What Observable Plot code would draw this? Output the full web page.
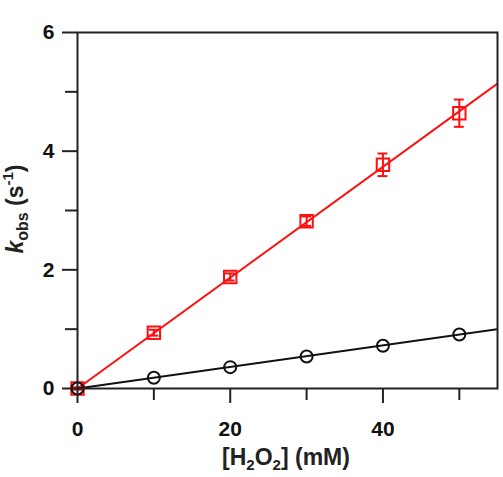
<!DOCTYPE html>
<html><head><meta charset="utf-8">
<script src="https://cdn.jsdelivr.net/npm/d3@7"></script>
<script src="https://cdn.jsdelivr.net/npm/@observablehq/plot@0.6"></script>
<style>
body{margin:0;background:#fff}
#chart svg{font-family:"Liberation Sans",Arial,sans-serif;}
</style>
</head><body><div id="chart"></div>
<script>
const conc = [0, 10, 20, 30, 40, 50];
const kobsRed = [0, 0.94, 1.88, 2.82, 3.77, 4.64];
const errRed = [0.02, 0.05, 0.06, 0.08, 0.19, 0.23];
const kobsBlack = [0, 0.18, 0.36, 0.54, 0.72, 0.91];
const fitX = [0, 55];
const fitRed = [0, 5.14];
const fitBlack = [0, 1.00];
const xMajor = [0, 20, 40];
const xMinor = [10, 30, 50];
const yMajor = [0, 2, 4, 6];
const yMinor = [1, 3, 5];

const red = conc.map((x, i) => ({x, y: kobsRed[i], lo: kobsRed[i] - errRed[i], hi: kobsRed[i] + errRed[i]}));
const black = conc.map((x, i) => ({x, y: kobsBlack[i]}));
const fitR = fitX.map((x, i) => ({x, y: fitRed[i]}));
const fitB = fitX.map((x, i) => ({x, y: fitBlack[i]}));
const capW = 0.65;
const RED = "#ff1010";

const plot = Plot.plot({
  width: 503, height: 477,
  marginLeft: 77, marginRight: 6, marginTop: 32, marginBottom: 89,
  style: {fontFamily: "Liberation Sans, Arial, sans-serif", background: "#fff"},
  x: {domain: [0, 55]},
  y: {domain: [0, 6]},
  marks: [
    Plot.line(fitR, {x: "x", y: "y", stroke: RED, strokeWidth: 2, clip: true}),
    Plot.ruleX(red, {x: "x", y1: "lo", y2: "hi", stroke: RED, strokeWidth: 2}),
    Plot.ruleY(red, {y: "hi", x1: d => d.x - capW, x2: d => d.x + capW, stroke: RED, strokeWidth: 2}),
    Plot.ruleY(red, {y: "lo", x1: d => d.x - capW, x2: d => d.x + capW, stroke: RED, strokeWidth: 2}),
    Plot.dot(red, {x: "x", y: "y", symbol: "square", r: 7, stroke: RED, strokeWidth: 2, fill: "none"}),
    Plot.line(fitB, {x: "x", y: "y", stroke: "#111", strokeWidth: 2, clip: true}),
    Plot.dot(black, {x: "x", y: "y", r: 6, stroke: "#111", strokeWidth: 2, fill: "none"}),
    Plot.frame({stroke: "#222", strokeWidth: 2}),
    Plot.axisX({ticks: xMajor, tickSize: 15, tickPadding: 18, tickFormat: d => d, fontSize: 21, fontWeight: "bold", stroke: "#222", strokeWidth: 2, fill: "#111", label: null}),
    Plot.axisX({ticks: xMinor, tickSize: 12, tickFormat: () => "", stroke: "#222", strokeWidth: 2, label: null}),
    Plot.axisY({ticks: yMajor, tickSize: 15, tickPadding: 8, tickFormat: d => d, fontSize: 21, fontWeight: "bold", stroke: "#222", strokeWidth: 2, fill: "#111", label: null}),
    Plot.axisY({ticks: yMinor, tickSize: 12, tickFormat: () => "", stroke: "#222", strokeWidth: 2, label: null})
  ]
});
document.getElementById("chart").appendChild(plot);

const svg = d3.select(plot);
// x-axis label: [H2O2] (mM)
const xl = svg.append("text")
  .attr("x", 286).attr("y", 465)
  .attr("text-anchor", "middle")
  .attr("font-size", 23).attr("font-weight", "bold").attr("fill", "#222")
  .attr("font-family", "Liberation Sans, Arial, sans-serif");
xl.append("tspan").text("[H");
xl.append("tspan").attr("font-size", 15).attr("dy", 5).text("2");
xl.append("tspan").attr("dy", -5).text("O");
xl.append("tspan").attr("font-size", 15).attr("dy", 5).text("2");
xl.append("tspan").attr("dy", -5).text("] (mM)");

// y-axis label: k_obs (s^-1)
const yl = svg.append("text")
  .attr("transform", "translate(23,209) rotate(-90)")
  .attr("text-anchor", "middle")
  .attr("font-size", 23).attr("font-weight", "bold").attr("fill", "#222")
  .attr("font-family", "Liberation Sans, Arial, sans-serif");
yl.append("tspan").attr("font-style", "italic").text("k");
yl.append("tspan").attr("font-size", 16).attr("dy", 5).text("obs");
yl.append("tspan").attr("dy", -5).text(" (s");
yl.append("tspan").attr("font-size", 15).attr("dy", -10).text("-1");
yl.append("tspan").attr("dy", 10).text(")");
</script>
</body></html>
